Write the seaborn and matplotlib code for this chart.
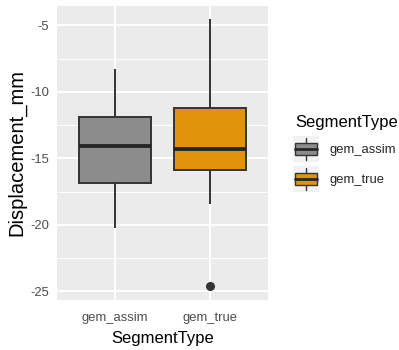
import pandas as pd
import numpy as np
import matplotlib
matplotlib.use("Agg")
import matplotlib.pyplot as plt
from matplotlib.patches import Rectangle
from matplotlib.lines import Line2D
from matplotlib.ticker import MultipleLocator
import seaborn as sns

# values (five-number summary points per group)
segment_types = ["gem_assim", "gem_true"]
gem_assim = [-20.25, -16.83, -14.07, -11.88, -8.26]
gem_true = [-24.6, -18.4, -15.87, -15.87, -14.3, -14.3, -11.18, -11.18, -4.55]
fill_colors = ["#8C8C8C", "#E3920C"]

df = pd.DataFrame({
    "SegmentType": ["gem_assim"] * len(gem_assim) + ["gem_true"] * len(gem_true),
    "Displacement_mm": gem_assim + gem_true,
})
palette = dict(zip(segment_types, fill_colors))

sns.set_theme(style="darkgrid")
plt.rcParams["font.family"] = ["Liberation Sans", "DejaVu Sans"]
plt.rcParams["axes.unicode_minus"] = False

W, H = 399, 350
fig = plt.figure(figsize=(W / 100, H / 100), dpi=100)
fig.patch.set_facecolor("white")
left, right, top, bottom = 57, 268, 6, 299.5
ax = fig.add_axes([left / W, (H - bottom) / H, (right - left) / W, (bottom - top) / H])
ax.set_facecolor("#EBEBEB")

sns.boxplot(data=df, x="SegmentType", y="Displacement_mm", hue="SegmentType",
            order=segment_types, palette=palette, saturation=1, width=0.75,
            linewidth=1.4, linecolor="#333333", fliersize=5.5, showcaps=False,
            legend=False,
            medianprops=dict(linewidth=2.8, color="#262626"),
            flierprops=dict(marker="o", markerfacecolor="#333333",
                            markeredgecolor="#333333"),
            ax=ax)

lo, hi = df["Displacement_mm"].min(), df["Displacement_mm"].max()
pad = (hi - lo) * 0.05
ax.set_ylim(lo - pad, hi + pad)
ax.set_xlim(-0.6, 1.6)
ax.set_yticks([-25, -20, -15, -10, -5])
ax.set_yticklabels(["-25", "-20", "-15", "-10", "-5"])
ax.yaxis.set_minor_locator(MultipleLocator(2.5))
ax.set_axisbelow(True)
ax.grid(which="major", color="white", linewidth=1.4)
ax.grid(which="minor", axis="y", color="white", linewidth=0.7)
for s in ax.spines.values():
    s.set_visible(False)

ax.tick_params(which="major", length=3.8, width=1.0, color="#333333",
               labelsize=9.4, labelcolor="#4D4D4D", pad=1.8)
ax.tick_params(which="minor", length=0)
ax.tick_params(axis="x", pad=5.5)
ax.set_xlabel("SegmentType", fontsize=12, color="black", labelpad=5)
ax.set_ylabel("Displacement_mm", fontsize=14.5, color="black", labelpad=3)


class BoxKeyHandler:
    def __init__(self, color):
        self.color = color

    def legend_artist(self, legend, orig_handle, fontsize, handlebox):
        x0, y0 = -handlebox.xdescent, -handlebox.ydescent
        w, h = handlebox.width, handlebox.height
        tr = handlebox.get_transform()
        bg = Rectangle((x0, y0), w, h, facecolor="#F2F2F2", edgecolor="none", transform=tr)
        cx, cy = x0 + w / 2, y0 + h / 2
        whisk = Line2D([cx, cx], [y0 + h * 0.08, y0 + h * 0.92], color="#333333",
                       linewidth=1.0, transform=tr)
        bw, bh = w * 0.84, h * 0.44
        box = Rectangle((cx - bw / 2, cy - bh / 2), bw, bh, facecolor=self.color,
                        edgecolor="#333333", linewidth=1.0, transform=tr)
        med = Line2D([cx - bw / 2, cx + bw / 2], [cy, cy], color="#262626",
                     linewidth=2.0, transform=tr)
        for a in (bg, whisk, box, med):
            handlebox.add_artist(a)
        return box


handles = [Rectangle((0, 0), 1, 1) for _ in segment_types]
fig.legend(handles, segment_types,
           handler_map={h: BoxKeyHandler(c) for h, c in zip(handles, fill_colors)},
           loc="upper left", bbox_to_anchor=(293 / W, 1 - 136 / H),
           frameon=False, fontsize=9.4, handlelength=2.0, handleheight=2.69,
           labelspacing=0.31, handletextpad=0.77, borderpad=0, borderaxespad=0)
fig.text(295 / W, 1 - 127 / H, "SegmentType", fontsize=12, color="black",
         ha="left", va="baseline")

fig.savefig("out.png", dpi=100, facecolor="white")
